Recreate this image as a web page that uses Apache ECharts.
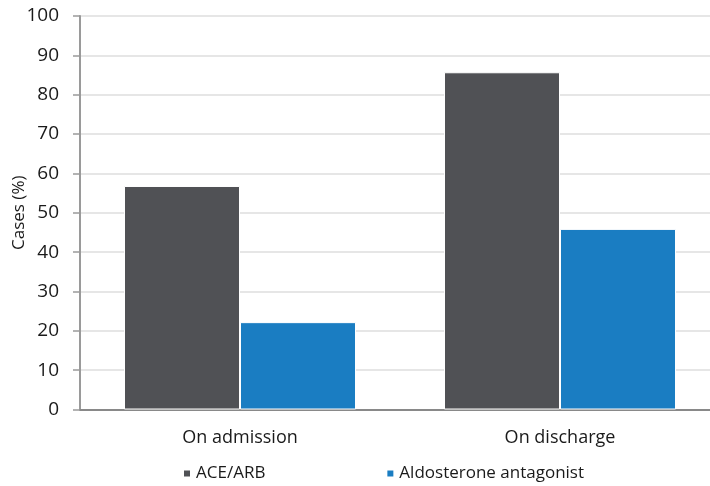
<!DOCTYPE html>
<html>
<head>
<meta charset="utf-8">
<script src="https://cdn.jsdelivr.net/npm/echarts@6/dist/echarts.min.js"></script>
<style>
  html, body { margin: 0; padding: 0; background: #fff; }
  #chart { width: 710px; height: 486px; }
</style>
</head>
<body>
<div id="chart"></div>
<script>
// Share of cases on each medication group, by time point
const categories = ['On admission', 'On discharge'];
const seriesNames = ['ACE/ARB', 'Aldosterone antagonist'];
const aceArb = [56.8, 85.7];
const aldosterone = [22.2, 45.9];
const yTicks = [0, 10, 20, 30, 40, 50, 60, 70, 80, 90, 100];

const FONT = '"Open Sans", "Noto Sans", sans-serif';
const chart = echarts.init(document.getElementById('chart'));

chart.setOption({
  animation: false,
  textStyle: { fontFamily: FONT },
  // plot area runs past the right edge of the canvas
  grid: {
    left: 80, width: 640, top: 16, height: 393.5,
    containLabel: false, outerBoundsMode: 'none'
  },
  legend: {
    data: seriesNames,
    left: 177,
    top: 460,
    itemWidth: 8,
    itemHeight: 8,
    itemGap: 120,
    icon: 'rect',
    textStyle: { fontSize: 17, color: '#1a1a1a', fontFamily: FONT }
  },
  xAxis: {
    type: 'category',
    data: categories,
    axisLine: { lineStyle: { color: '#898989', width: 2 } },
    axisTick: { show: false },
    axisLabel: { fontSize: 18, color: '#1a1a1a', margin: 19, fontFamily: FONT }
  },
  yAxis: {
    type: 'value',
    min: yTicks[0],
    max: yTicks[yTicks.length - 1],
    interval: 10,
    name: 'Cases (%)',
    nameLocation: 'middle',
    nameGap: 52,
    nameMoveOverlap: false,
    nameTextStyle: { fontSize: 17, color: '#1a1a1a', fontFamily: FONT },
    axisLine: { show: true, lineStyle: { color: '#9a9a9a', width: 2 } },
    axisTick: { show: true, length: 7, lineStyle: { color: '#9a9a9a', width: 1.5 } },
    axisLabel: { fontSize: 19, color: '#1a1a1a', margin: 21, fontFamily: FONT },
    splitLine: { lineStyle: { color: '#dedede', width: 1.5 } }
  },
  series: [
    {
      name: seriesNames[0],
      type: 'bar',
      data: aceArb,
      barWidth: 116,
      barGap: '0%',
      itemStyle: { color: '#505155', borderColor: '#ffffff', borderWidth: 1 }
    },
    {
      name: seriesNames[1],
      type: 'bar',
      data: aldosterone,
      barWidth: 116,
      itemStyle: { color: '#1a7dc2', borderColor: '#ffffff', borderWidth: 1 }
    }
  ]
});
</script>
</body>
</html>
